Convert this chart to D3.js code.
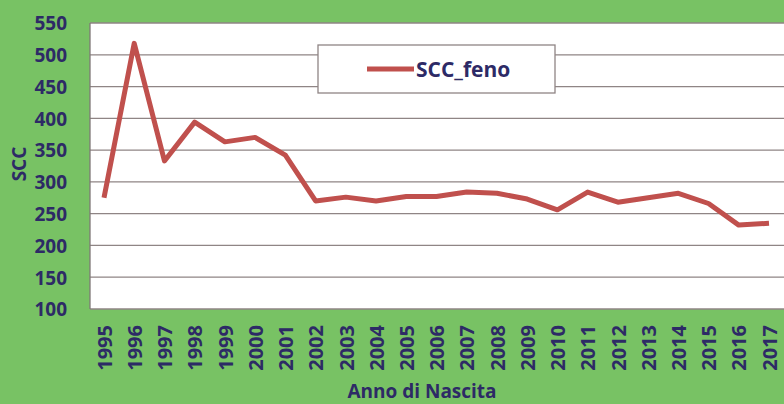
<!DOCTYPE html>
<meta charset="utf-8">
<style>
body { margin: 0; background: #78c264; }
svg { display: block; font-family: 'Open Sans', sans-serif; font-weight: bold; }
</style>
<body>
<script src="https://d3js.org/d3.v7.min.js"></script>
<script>
// data
var years = ["1995","1996","1997","1998","1999","2000","2001","2002","2003","2004","2005",
             "2006","2007","2008","2009","2010","2011","2012","2013","2014","2015","2016","2017"];
var scc = [275, 518, 333, 394, 363, 370, 342, 270, 276, 270, 277,
           277, 284, 282, 273, 256, 284, 268, 275, 282, 266, 232, 235];
var yTicks = [100, 150, 200, 250, 300, 350, 400, 450, 500, 550];
var seriesName = "SCC_feno";

var W = 784, H = 404;
var plot = {left: 90, top: 23, right: 784, bottom: 309};
var ink = "#2d2a66", red = "#c0504d";

var svg = d3.select("body").append("svg")
    .attr("width", W)
    .attr("height", H);

var x = d3.scalePoint().domain(years).range([104, 769]);
var y = d3.scaleLinear().domain([100, 550]).range([plot.bottom, plot.top]);

// plot background
svg.append("rect")
    .attr("x", plot.left).attr("y", plot.top)
    .attr("width", plot.right - plot.left).attr("height", plot.bottom - plot.top)
    .attr("fill", "#fff");

// gridlines
svg.append("g").selectAll("line")
    .data(yTicks)
  .enter().append("line")
    .attr("x1", plot.left).attr("x2", plot.right)
    .attr("y1", d => y(d)).attr("y2", d => y(d))
    .attr("stroke", "#8f8585")
    .attr("stroke-width", 1.3);

// left border
svg.append("line")
    .attr("x1", plot.left).attr("x2", plot.left)
    .attr("y1", plot.top).attr("y2", plot.bottom)
    .attr("stroke", "#7f7777").attr("stroke-width", 1.3);

// y axis labels
var yAxis = d3.axisLeft(y).tickValues(yTicks).tickSize(0).tickPadding(0);
var gy = svg.append("g")
    .attr("transform", "translate(67,0)")
    .call(yAxis);
gy.select(".domain").remove();
gy.selectAll("text")
    .attr("fill", ink)
    .style("font-size", "19px")
    .style("font-family", "'Open Sans', sans-serif")
    .attr("dy", "0.36em");

// x axis labels (rotated)
var xAxis = d3.axisBottom(x).tickSize(0).tickPadding(0);
var gx = svg.append("g")
    .attr("transform", "translate(0," + plot.bottom + ")")
    .call(xAxis);
gx.select(".domain").remove();
gx.selectAll("text")
    .attr("fill", ink)
    .style("font-size", "20px")
    .style("font-family", "'Open Sans', sans-serif")
    .attr("text-anchor", "end")
    .attr("transform", "rotate(-90)")
    .attr("x", -16)
    .attr("y", 0)
    .attr("dy", "0.36em");

// line
var line = d3.line()
    .x((d, i) => x(years[i]))
    .y(d => y(d));

svg.append("path")
    .datum(scc)
    .attr("d", line)
    .attr("fill", "none")
    .attr("stroke", red)
    .attr("stroke-width", 5)
    .attr("stroke-linejoin", "round");

// axis titles
svg.append("text")
    .attr("transform", "translate(26,164) rotate(-90)")
    .attr("text-anchor", "middle")
    .attr("fill", ink)
    .style("font-size", "19px")
    .text("SCC");

svg.append("text")
    .attr("x", 422).attr("y", 398)
    .attr("text-anchor", "middle")
    .attr("fill", ink)
    .style("font-size", "19px")
    .text("Anno di Nascita");

// legend
var lg = svg.append("g");
lg.append("rect")
    .attr("x", 318).attr("y", 45)
    .attr("width", 237).attr("height", 48)
    .attr("fill", "#fff")
    .attr("stroke", "#8f8585").attr("stroke-width", 1.3);
lg.append("line")
    .attr("x1", 367).attr("x2", 414)
    .attr("y1", 69).attr("y2", 69)
    .attr("stroke", red).attr("stroke-width", 5);
lg.append("text")
    .attr("x", 416).attr("y", 69)
    .attr("dy", "0.36em")
    .attr("fill", ink)
    .style("font-size", "21px")
    .text(seriesName);
</script>
</body>
